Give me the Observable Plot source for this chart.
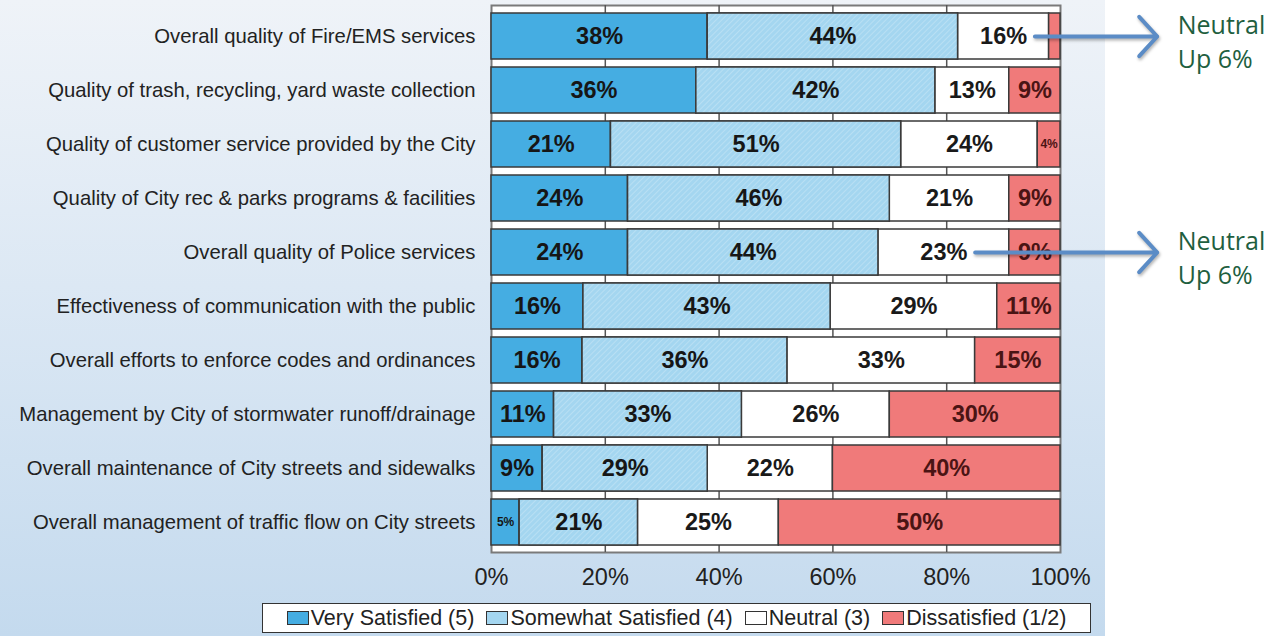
<!DOCTYPE html>
<html>
<head>
<meta charset="utf-8">
<script src="https://cdn.jsdelivr.net/npm/d3@7"></script>
<script src="https://cdn.jsdelivr.net/npm/@observablehq/plot@0.6"></script>
<style>
  html, body { margin: 0; padding: 0; background: #ffffff; }
  #wrap { position: relative; width: 1285px; height: 636px; overflow: hidden; font-family: "Liberation Sans", Arial, sans-serif; }
  #bg { position: absolute; left: 0; top: 0; width: 1105px; height: 636px;
        background: linear-gradient(to bottom, #eff3f8 0%, #dce8f4 45%, #c4daee 100%); }
  #chart { position: absolute; left: 0; top: 0; }
  #legend { position: absolute; left: 262px; top: 603px; width: 827px; height: 28px;
            background: #ffffff; border: 1.5px solid #333; box-sizing: content-box;
            display: flex; align-items: center; justify-content: center; gap: 12px;
            font-size: 21.5px; color: #222; white-space: nowrap; }
  #legend .item { display: flex; align-items: center; gap: 2px; }
  #legend .sw { width: 20px; height: 12px; border: 1.5px solid #333; display: inline-block; }
  .note-arrow { filter: drop-shadow(1px 2px 1.5px rgba(0,0,0,0.3)); }
</style>
</head>
<body>
<div id="wrap">
  <div id="bg"></div>
  <div id="chart"></div>
  <div id="legend"></div>
</div>
<script>
// ---- data ----
const categories = [
  "Overall quality of Fire/EMS services",
  "Quality of trash, recycling, yard waste collection",
  "Quality of customer service provided by the City",
  "Quality of City rec & parks programs & facilities",
  "Overall quality of Police services",
  "Effectiveness of communication with the public",
  "Overall efforts to enforce codes and ordinances",
  "Management by City of stormwater runoff/drainage",
  "Overall maintenance of City streets and sidewalks",
  "Overall management of traffic flow on City streets"
];
const levels = ["Very Satisfied (5)", "Somewhat Satisfied (4)", "Neutral (3)", "Dissatisfied (1/2)"];
const verySatisfied     = [38, 36, 21, 24, 24, 16, 16, 11,  9,  5];
const somewhatSatisfied = [44, 42, 51, 46, 44, 43, 36, 33, 29, 21];
const neutral           = [16, 13, 24, 21, 23, 29, 33, 26, 22, 25];
const dissatisfied      = [ 2,  9,  4,  9,  9, 11, 15, 30, 40, 50];
const xTicks = [0, 0.2, 0.4, 0.6, 0.8, 1];
// annotations: arrows from a row to a note on the right
const noteRows   = [categories[0], categories[4]];
const noteFrom   = [0.955, 0.85];
const noteTo     = [1.17, 1.17];
const noteTextX  = [1.206, 1.206];
const noteLabels = ["Neutral\nUp 6%", "Neutral\nUp 6%"];

// ---- build table (normalized stack per row) ----
const series = [verySatisfied, somewhatSatisfied, neutral, dissatisfied];
const data = [];
categories.forEach((c, i) => {
  const total = d3.sum(series, s => s[i]);
  let acc = 0;
  levels.forEach((l, j) => {
    const v = series[j][i];
    data.push({category: c, level: l, value: v, x1: acc / total, x2: (acc + v) / total});
    acc += v;
  });
});
const notes = noteRows.map((r, i) => ({category: r, from: noteFrom[i], to: noteTo[i], tx: noteTextX[i], label: noteLabels[i]}));

const colors = ["#45ade2", "#a4d6f0", "#ffffff", "#f07a7a"];
const textColors = {"Very Satisfied (5)": "#161616", "Somewhat Satisfied (4)": "#161616", "Neutral (3)": "#1a1a1a", "Dissatisfied (1/2)": "#4a1414"};

const plot = Plot.plot({
  width: 1285,
  height: 600,
  marginLeft: 491,
  marginRight: 225,
  marginTop: 5,
  marginBottom: 48,
  style: {background: "transparent", fontFamily: "'Liberation Sans', Arial, sans-serif", overflow: "visible"},
  x: {domain: [0, 1], axis: null},
  y: {domain: categories, paddingInner: 0.15, paddingOuter: 0.09, axis: null},
  color: {domain: levels, range: colors},
  marks: [
    Plot.frame({fill: "#ffffff", stroke: "#7a7a7a", strokeWidth: 2}),
    Plot.ruleX(xTicks.slice(1, -1), {stroke: "#555", strokeWidth: 1.5}),
    Plot.barX(data, {x1: "x1", x2: "x2", y: "category", fill: "level", stroke: "#3a3a3a", strokeWidth: 1.5}),
    Plot.barX(data.filter(d => d.level === levels[1]), {x1: "x1", x2: "x2", y: "category", fill: "url(#hatch)", stroke: "#3a3a3a", strokeWidth: 1.5}),
    Plot.text(data.filter(d => d.value >= 3), {
      x: d => (d.x1 + d.x2) / 2,
      y: "category",
      text: d => d.value + "%",
      fontWeight: "bold",
      fontSize: d => d.value <= 5 ? 12 : 23.5,
      fill: d => textColors[d.level]
    }),
    Plot.axisY({tickSize: 0, tickPadding: 16, fontSize: 20.3, label: null, color: "#222"}),
    Plot.axisX({ticks: xTicks, tickFormat: d => Math.round(d * 100) + "%", tickSize: 0, tickPadding: 16, fontSize: 23.5, label: null, color: "#222"}),
    Plot.arrow(notes, {x1: "from", x2: "to", y1: "category", y2: "category", stroke: "#5b8cc6", strokeWidth: 4, headLength: 10, headAngle: 95, className: "note-arrow"}),
    Plot.text(notes, {x: "tx", y: "category", text: "label", textAnchor: "start", lineAnchor: "middle", lineHeight: 1.36, dy: 4, fontSize: 25, fill: "#1f5f3f", fontFamily: "'Open Sans', sans-serif"})
  ]
});

// hatch pattern for "Somewhat Satisfied"
const ns = "http://www.w3.org/2000/svg";
const svg = plot.tagName.toLowerCase() === "svg" ? plot : plot.querySelector("svg");
const defs = document.createElementNS(ns, "defs");
defs.innerHTML = `<pattern id="hatch" width="4" height="4" patternUnits="userSpaceOnUse" patternTransform="rotate(45)">
  <rect width="4" height="4" fill="#a4d6f0"></rect>
  <line x1="0" y1="0" x2="0" y2="4" stroke="#bfe3f5" stroke-width="1.5"></line>
</pattern>`;
svg.insertBefore(defs, svg.firstChild);

document.getElementById("chart").appendChild(plot);

// legend
const legend = document.getElementById("legend");
levels.forEach((l, i) => {
  const item = document.createElement("span");
  item.className = "item";
  const sw = document.createElement("span");
  sw.className = "sw";
  sw.style.background = colors[i];
  item.appendChild(sw);
  item.appendChild(document.createTextNode(l));
  legend.appendChild(item);
});
</script>
</body>
</html>
